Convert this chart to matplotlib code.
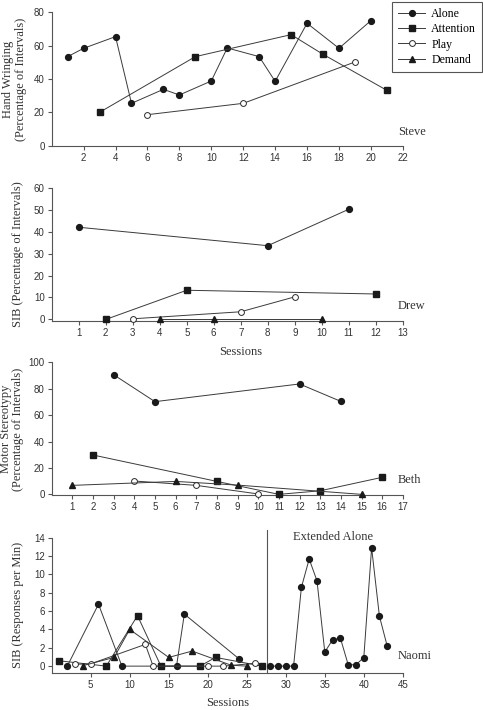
import matplotlib.pyplot as plt

plt.rcParams['font.family'] = ['Liberation Sans', 'DejaVu Sans']

# Steve - hand wringing (percentage of intervals)
steve_alone_x = [1, 2, 4, 5, 7, 8, 10, 11, 13, 14, 16, 18, 20]
steve_alone_y = [53.4, 58.4, 65.4, 25.4, 33.8, 30.4, 38.8, 58.6, 53.4, 38.6, 73.4, 58.4, 75.0]
steve_attn_x = [3, 9, 15, 17, 21]
steve_attn_y = [20.0, 53.4, 66.6, 54.8, 33.2]
steve_play_x = [6, 12, 19]
steve_play_y = [18.6, 25.4, 50.2]

# Drew - SIB (percentage of intervals)
drew_alone_x = [1, 8, 11]
drew_alone_y = [42.0, 33.6, 50.2]
drew_attn_x = [2, 5, 12]
drew_attn_y = [0.0, 13.3, 11.6]
drew_play_x = [3, 7, 9]
drew_play_y = [0.3, 3.5, 10.3]
drew_demand_x = [4, 6, 10]
drew_demand_y = [0.0, 0.0, 0.0]

# Beth - motor stereotypy (percentage of intervals)
beth_alone_x = [3, 5, 12, 14]
beth_alone_y = [90.6, 70.2, 83.6, 70.4]
beth_attn_x = [2, 8, 11, 13, 16]
beth_attn_y = [29.8, 9.8, 0.0, 2.7, 12.9]
beth_play_x = [4, 7, 10]
beth_play_y = [10.1, 6.8, 0.3]
beth_demand_x = [1, 6, 9, 15]
beth_demand_y = [6.8, 9.8, 7.0, 0.0]

# Naomi - SIB (responses per min)
naomi_alone_x = [2, 6, 9, 16, 17, 24]
naomi_alone_y = [0.0, 6.75, 0.0, 0.0, 5.67, 0.8]
naomi_attn_x = [1, 7, 11, 14, 19, 21, 27]
naomi_attn_y = [0.58, 0.0, 5.5, 0.0, 0.0, 0.95, 0.0]
naomi_play_x = [3, 5, 12, 13, 20, 22, 26]
naomi_play_y = [0.2, 0.25, 2.37, 0.0, 0.0, 0.0, 0.3]
naomi_demand_x = [4, 8, 10, 15, 18, 23, 25]
naomi_demand_y = [0.05, 0.95, 4.0, 0.95, 1.64, 0.1, 0.0]
naomi_ext_x = [28, 29, 30, 31, 32, 33, 34, 35, 36, 37, 38, 39, 40, 41, 42, 43]
naomi_ext_y = [0.0, 0.0, 0.0, 0.0, 8.58, 11.67, 9.3, 1.53, 2.87, 3.05,
               0.15, 0.15, 0.94, 12.9, 5.45, 2.18]
naomi_phase_change = 27.6

LINE = '#3a3a3a'
TEXT = '#333333'
styles = {
    'Alone': dict(marker='o', ms=4.2, mfc='#1a1a1a', mec='#1a1a1a'),
    'Attention': dict(marker='s', ms=4.4, mfc='#1a1a1a', mec='#1a1a1a'),
    'Play': dict(marker='o', ms=4.2, mfc='white', mec='#2a2a2a', mew=0.7),
    'Demand': dict(marker='^', ms=4.6, mfc='#1a1a1a', mec='#1a1a1a'),
}
serif = 'Liberation Serif'


def draw_series(ax, x, y, cond, label=None):
    ax.plot(x, y, color=LINE, lw=0.7, label=label, clip_on=False, zorder=3,
            **styles[cond])


def style_axes(ax, xlim, xticks, ylim, yticks):
    ax.set_xlim(*xlim)
    ax.set_ylim(*ylim)
    ax.set_xticks(xticks)
    ax.set_yticks(yticks)
    for side in ['top', 'right']:
        ax.spines[side].set_visible(False)
    for side in ['left', 'bottom']:
        ax.spines[side].set_color('#555555')
        ax.spines[side].set_linewidth(0.8)
    ax.spines['left'].set_bounds(ylim[0], yticks[-1])
    ax.tick_params(direction='out', length=3, width=0.8, color='#555555',
                   labelsize=7, labelcolor=TEXT, pad=2)
    for lbl in ax.get_xticklabels() + ax.get_yticklabels():
        lbl.set_family('Liberation Sans')


fig = plt.figure(figsize=(4.83, 7.10), dpi=100)
left, width = 0.107, 0.727

# Steve
ax1 = fig.add_axes([left, 0.7948, width, 0.1879])
draw_series(ax1, steve_alone_x, steve_alone_y, 'Alone', 'Alone')
draw_series(ax1, steve_attn_x, steve_attn_y, 'Attention', 'Attention')
draw_series(ax1, steve_play_x, steve_play_y, 'Play', 'Play')
ax1.plot([], [], color=LINE, lw=0.7, label='Demand', **styles['Demand'])
style_axes(ax1, (0, 22), range(2, 23, 2), (0, 80), range(0, 81, 20))
ax1.text(21.7, 8.4, 'Steve', family=serif, fontsize=9, va='center', color=TEXT)
fig.text(14.5 / 483, 1 - 79 / 710, 'Hand Wringing\n(Percentage of Intervals)',
         rotation=90, ha='center', va='center', family=serif, fontsize=9,
         linespacing=1.05, color=TEXT)

# Drew
ax2 = fig.add_axes([left, 0.5479, width, 0.1877])
draw_series(ax2, drew_alone_x, drew_alone_y, 'Alone')
draw_series(ax2, drew_attn_x, drew_attn_y, 'Attention')
draw_series(ax2, drew_play_x, drew_play_y, 'Play')
draw_series(ax2, drew_demand_x, drew_demand_y, 'Demand')
style_axes(ax2, (0, 13), range(1, 14), (-0.7, 60), range(0, 61, 10))
ax2.text(12.8, 6.3, 'Drew', family=serif, fontsize=9, va='center', color=TEXT)
ax2.set_xlabel('Sessions', family=serif, fontsize=9, color=TEXT)
ax2.xaxis.set_label_coords(0.539, -0.185)
fig.text(18.5 / 483, 1 - 254 / 710, 'SIB (Percentage of Intervals)',
         rotation=90, ha='center', va='center', family=serif, fontsize=9,
         color=TEXT)

# Beth
ax3 = fig.add_axes([left, 0.3028, width, 0.1869])
draw_series(ax3, beth_alone_x, beth_alone_y, 'Alone')
draw_series(ax3, beth_attn_x, beth_attn_y, 'Attention')
draw_series(ax3, beth_play_x, beth_play_y, 'Play')
draw_series(ax3, beth_demand_x, beth_demand_y, 'Demand')
style_axes(ax3, (0, 17), range(1, 18), (-0.5, 100), range(0, 101, 20))
ax3.text(16.74, 10.8, 'Beth', family=serif, fontsize=9, va='center', color=TEXT)
fig.text(12 / 483, 1 - 429 / 710, 'Motor Stereotypy\n(Percentage of Intervals)',
         rotation=90, ha='center', va='center', family=serif, fontsize=9,
         linespacing=1.05, color=TEXT)

# Naomi
ax4 = fig.add_axes([left, 0.0521, width, 0.1906])
draw_series(ax4, naomi_alone_x, naomi_alone_y, 'Alone')
draw_series(ax4, naomi_attn_x, naomi_attn_y, 'Attention')
draw_series(ax4, naomi_play_x, naomi_play_y, 'Play')
draw_series(ax4, naomi_demand_x, naomi_demand_y, 'Demand')
draw_series(ax4, naomi_ext_x, naomi_ext_y, 'Alone')
ax4.axvline(naomi_phase_change, ymin=0, ymax=1.057, color='#555555', lw=0.8,
            clip_on=False)
style_axes(ax4, (0, 45), range(5, 46, 5), (-0.75, 14), range(0, 15, 2))
ax4.text(36.0, 14.1, 'Extended Alone', family=serif, fontsize=9, ha='center',
         va='center', color=TEXT)
ax4.text(44.4, 1.1, 'Naomi', family=serif, fontsize=9, va='center', color=TEXT)
ax4.set_xlabel('Sessions', family=serif, fontsize=9, color=TEXT)
ax4.xaxis.set_label_coords(0.5, -0.175)
fig.text(18.5 / 483, 1 - 605 / 710, 'SIB (Responses per Min)',
         rotation=90, ha='center', va='center', family=serif, fontsize=9,
         color=TEXT)

leg = fig.legend(*ax1.get_legend_handles_labels(), loc='upper right',
                 bbox_to_anchor=(482 / 483, 1 - 2 / 710), borderaxespad=0,
                 fancybox=False, edgecolor='#555555', framealpha=1,
                 prop={'family': serif, 'size': 8.5}, handlelength=2.3,
                 labelspacing=0.28, handletextpad=0.5, borderpad=0.5)
leg.get_frame().set_linewidth(0.8)

fig.savefig('out.png', dpi=100)
